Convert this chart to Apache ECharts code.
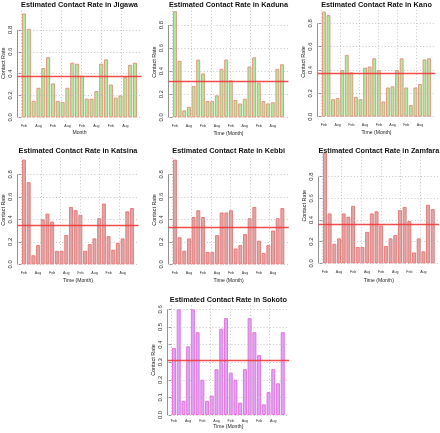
<!DOCTYPE html>
<html><head><meta charset="utf-8">
<script src="https://cdn.jsdelivr.net/npm/echarts@6/dist/echarts.min.js"></script>
<style>html,body{margin:0;padding:0;background:#fff}#c{width:440px;height:433px}</style>
</head><body><div id="c"></div>
<script>
// ---- data ----
const months = ["Feb","Apr","Jun","Aug","Oct","Dec","Feb","Apr","Jun","Aug","Oct","Dec",
                "Feb","Apr","Jun","Aug","Oct","Dec","Feb","Apr","Jun","Aug","Oct","Dec"];
const jigawa  = [0.95,0.81,0.15,0.27,0.45,0.55,0.31,0.15,0.14,0.27,0.50,0.49,0.38,0.17,0.17,0.24,0.49,0.53,0.30,0.18,0.20,0.37,0.48,0.50];
const kaduna  = [0.92,0.49,0.06,0.09,0.27,0.50,0.38,0.14,0.14,0.19,0.42,0.50,0.32,0.15,0.12,0.16,0.44,0.52,0.30,0.14,0.12,0.13,0.42,0.46];
const kano    = [0.90,0.87,0.15,0.16,0.40,0.53,0.38,0.17,0.15,0.42,0.43,0.50,0.40,0.13,0.25,0.26,0.40,0.50,0.25,0.10,0.25,0.28,0.49,0.50];
const katsina = [0.93,0.73,0.08,0.17,0.40,0.45,0.38,0.12,0.12,0.26,0.51,0.48,0.44,0.12,0.18,0.23,0.41,0.54,0.25,0.13,0.19,0.23,0.47,0.50];
const kebbi   = [0.93,0.24,0.12,0.23,0.42,0.48,0.42,0.11,0.11,0.26,0.46,0.46,0.48,0.14,0.17,0.27,0.41,0.51,0.21,0.10,0.17,0.30,0.41,0.50];
const zamfara = [1.02,0.46,0.18,0.23,0.46,0.43,0.53,0.15,0.15,0.29,0.46,0.48,0.35,0.16,0.23,0.26,0.49,0.52,0.39,0.10,0.23,0.11,0.54,0.50];
const sokoto  = [0.38,0.60,0.08,0.39,0.60,0.47,0.20,0.08,0.11,0.26,0.49,0.55,0.24,0.20,0.07,0.26,0.55,0.47,0.34,0.06,0.13,0.26,0.18,0.47];
const ticksA = [0, 0.2, 0.4, 0.6, 0.8];
const ticksB = [0, 0.1, 0.2, 0.3, 0.4, 0.5, 0.6];
const xGrid = [0, 5, 10, 15, 20, 25];

// ---- layout / style ----
const green = {fill:'#a2f09c', border:'#ee8a7c'};
const rose  = {fill:'#d6aaaa', border:'#f07070'};
const violet= {fill:'#d6a8f6', border:'#ee66d8'};
const panels = [
  {state:'Jigawa',  v:jigawa,  t:ticksA, xn:'Month',        bx0:22,  bx1:137,   base:117.3, sc:109.2, ty:4.5, lo:8,   no:15.4, c:green},
  {state:'Kaduna',  v:kaduna,  t:ticksA, xn:'Time (Month)', bx0:173, bx1:284,   base:117.3, sc:115.3, ty:4.5, lo:8.5, no:16,   c:green},
  {state:'Kano',    v:kano,    t:ticksA, xn:'Time (Month)', bx0:322, bx1:431,   base:116.7, sc:116.7, ty:4.5, lo:8.5, no:16,   c:green},
  {state:'Katsina', v:katsina, t:ticksA, xn:'Time (Month)', bx0:22,  bx1:134,   base:264.3, sc:112.5, ty:151, lo:8,   no:16.7, c:rose},
  {state:'Kebbi',   v:kebbi,   t:ticksA, xn:'Time (Month)', bx0:173, bx1:284.3, base:264.3, sc:112.5, ty:151, lo:8,   no:16.7, c:rose},
  {state:'Zamfara', v:zamfara, t:ticksA, xn:'Time (Month)', bx0:323, bx1:434.7, base:263.3, sc:108.3, ty:151, lo:8.4, no:17.7, c:rose},
  {state:'Sokoto',  v:sokoto,  t:ticksB, xn:'Time (Month)', bx0:172, bx1:284.7, base:415,   sc:176,   ty:300, lo:6,   no:12,   c:violet}
];
// R barplot geometry: width 1, space 0.2
const W = 1, SP = 0.2;
const barX = i => SP + (W + SP) * i + W / 2;

const font = 'Liberation Sans, Arial, Helvetica, sans-serif';
const opt = {animation:false, backgroundColor:'#fff', title:[], grid:[], xAxis:[], yAxis:[], series:[]};
panels.forEach((p, k) => {
  const n = p.v.length;
  const uMin = SP, uMax = n * (W + SP);
  const ext = 0.04 * (uMax - uMin);
  const xmin = uMin - ext, xmax = uMax + ext;
  const span = p.bx1 - p.bx0;
  const gl = p.bx0 - 0.04 * span, gw = 1.08 * span;
  const ymax = Math.max(...p.v) * 1.04;
  const gh = ymax * p.sc;
  opt.grid.push({left:gl, top:p.base - gh, width:gw, height:gh, containLabel:false, outerBoundsMode:'none'});
  opt.title.push({text:'Estimated Contact Rate in ' + p.state, left:gl + gw / 2, top:p.ty - 3.7, textAlign:'center', padding:0,
    textStyle:{fontSize:7.3, lineHeight:7.4, fontWeight:'bold', color:'#111', fontFamily:font}});
  const labIdx = [];
  for (let i = 0; i < n; i += 3) labIdx.push(barX(i));
  opt.xAxis.push({gridIndex:k, type:'value', min:xmin, max:xmax,
    axisLine:{show:false}, axisTick:{show:false}, splitLine:{show:false},
    axisLabel:{customValues:labIdx, formatter:v => months[Math.round((v - barX(0)) / (W + SP))],
      fontSize:3.6, color:'#333', margin:p.lo - 1.8, fontFamily:font, hideOverlap:false, showMinLabel:true, showMaxLabel:true},
    name:p.xn, nameLocation:'middle', nameGap:p.no - 2.6, nameMoveOverlap:false,
    nameTextStyle:{fontSize:5.1, color:'#222', fontFamily:font}});
  opt.yAxis.push({gridIndex:k, type:'value', min:0, max:ymax,
    axisLine:{show:false}, splitLine:{show:false},
    axisTick:{show:true, customValues:p.t, length:2.5, lineStyle:{color:'#666', width:0.7}},
    axisLabel:{customValues:p.t, rotate:90, formatter:v => v.toFixed(1), fontSize:5.9, color:'#333', margin:4, fontFamily:font,
      showMinLabel:true, showMaxLabel:true, hideOverlap:false},
    name:'Contact Rate', nameLocation:'middle', nameRotate:90, nameGap:11.5, nameMoveOverlap:false,
    nameTextStyle:{fontSize:5.4, color:'#222', fontFamily:font}});
  const dotted = {color:'#b8b8b8', width:0.8, type:[1, 2.2]};
  const mk = [];
  xGrid.forEach(x => mk.push({xAxis:x, lineStyle:dotted}));
  p.t.forEach(t => mk.push({yAxis:t, lineStyle:dotted}));
  mk.push([{coord:[xmin, p.t[0]], lineStyle:{color:'#777', width:0.8, type:'solid'}}, {coord:[xmin, p.t[p.t.length - 1]]}]);
  mk.push({type:'average', valueIndex:1, lineStyle:{color:'#f23a3a', width:1.4, type:'solid', opacity:0.9}});
  opt.series.push({type:'bar', xAxisIndex:k, yAxisIndex:k, clip:false,
    data:p.v.map((v, i) => [barX(i), v]),
    barWidth:span / (uMax - uMin) * W,
    itemStyle:{color:p.c.fill, borderColor:p.c.border, borderWidth:0.9},
    markLine:{silent:true, symbol:['none','none'], label:{show:false}, emphasis:{disabled:true}, data:mk}});
});
const chart = echarts.init(document.getElementById('c'), null, {renderer:'canvas'});
chart.setOption(opt);
</script></body></html>
